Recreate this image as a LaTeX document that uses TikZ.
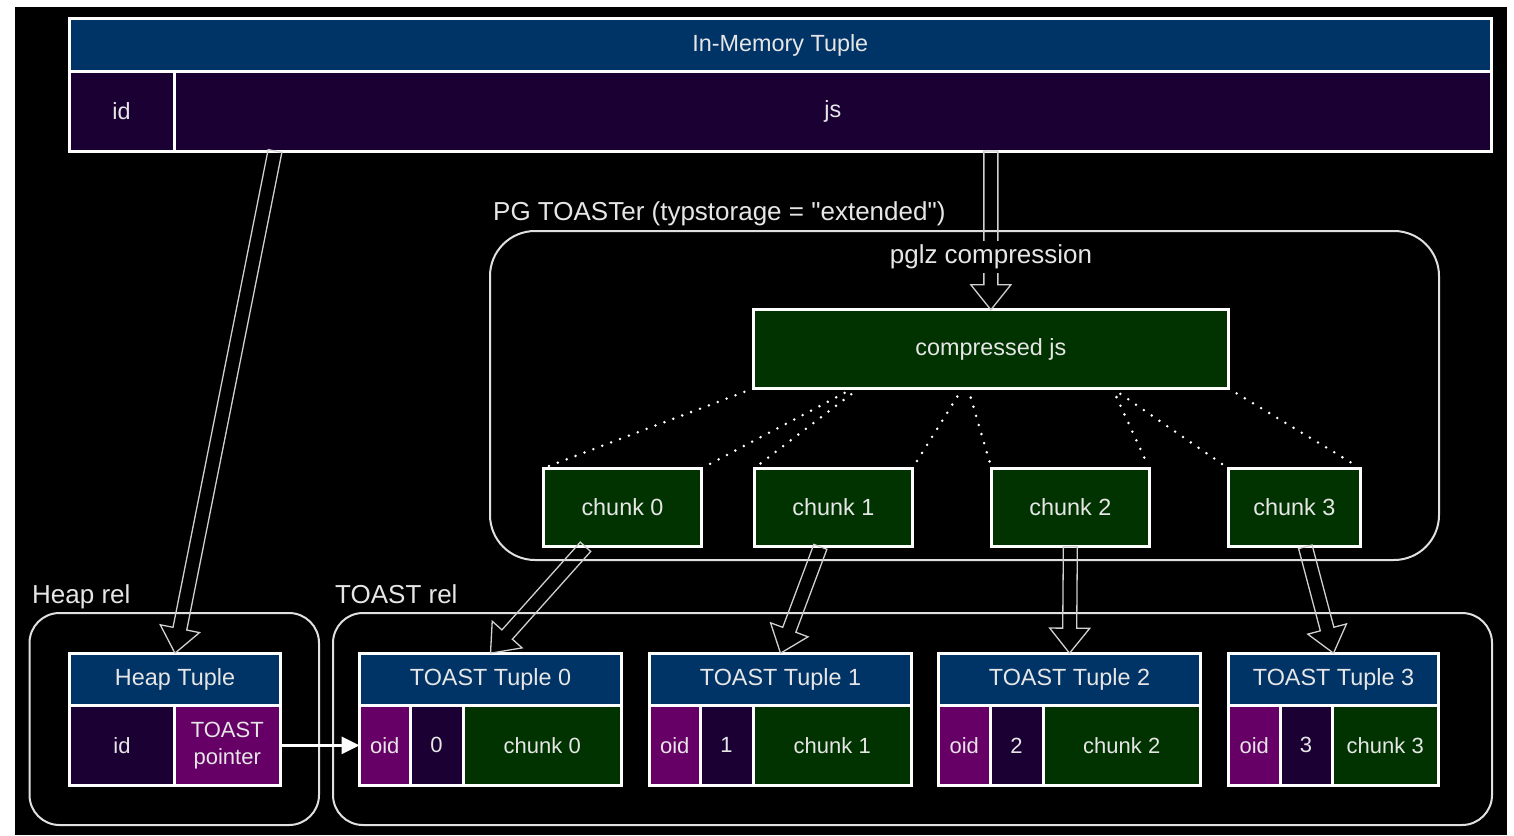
\documentclass[tikz,border=0pt]{standalone}
\usepackage{fontspec}
\setmainfont{Liberation Sans}[Ligatures=TeXOff]
\usetikzlibrary{calc,arrows.meta}
\definecolor{hdrblue}{HTML}{003366}
\definecolor{darkpur}{HTML}{1A0033}
\definecolor{midpur}{HTML}{660066}
\definecolor{darkgrn}{HTML}{003300}
\definecolor{txtc}{HTML}{E6E6E6}
\definecolor{linec}{HTML}{E0E0E0}
\definecolor{arrc}{HTML}{D0D0D0}
\newcommand\cellbox[7]{%
  \node[#6, minimum width={(#4)-(#2)}, minimum height={(#5)-(#3)}] (#1) at ({((#2)+(#4))/2},{((#3)+(#5))/2}) {#7};}
\newcommand\flexarrow[2]{%
  \coordinate (fa-n) at ($(#2)!25pt!(#1)$);
  \draw[flexarr] ($(#1)!7pt!90:(#2)$) -- ($(fa-n)!7pt!-90:(#1)$) -- ($(fa-n)!20pt!-90:(#1)$) -- (#2) -- ($(fa-n)!20pt!90:(#1)$) -- ($(fa-n)!7pt!90:(#1)$) -- ($(#1)!7pt!-90:(#2)$) -- cycle;}
\tikzset{
 cellb/.style={draw=white, line width=3pt, text=txtc, inner sep=0pt, outer sep=0pt, align=center, font=\fontsize{22}{27}\selectfont},
 hdrb/.style={cellb, fill=hdrblue, font=\fontsize{23.4}{26}\selectfont},
 dpb/.style={cellb, fill=darkpur},
 mpb/.style={cellb, fill=midpur},
 gb/.style={cellb, fill=darkgrn},
 chb/.style={cellb, fill=darkgrn, font=\fontsize{23.4}{26}\selectfont},
 cont/.style={draw=linec, line width=2pt, rounded corners=#1, inner sep=0pt, outer sep=0pt},
 lbl/.style={text=txtc, font=\fontsize{26}{30}\selectfont, inner sep=0pt, anchor=base west},
 flexarr/.style={draw=arrc, line width=1.3pt, line join=miter},
 dotl/.style={draw=white, line width=2.8pt, line cap=round, dash pattern=on 0pt off 9.5pt, shorten >=4pt},
 ptrarr/.style={draw=white, line width=3pt, -{Triangle[length=18pt,width=17pt]}},
}
\begin{document}
\begin{tikzpicture}[x=1pt,y=-1pt]
\useasboundingbox (0,0) rectangle (1514,835);
\fill[white] (0,0) rectangle (1514,835);
\fill[black] (15,7) rectangle (1507,835);

% containers
\cellbox{heaprel}{29.5}{613}{319}{825}{cont=30pt}{}
\cellbox{toastrel}{333}{613}{1492}{825}{cont=30pt}{}
\cellbox{toaster}{490}{231}{1439}{560}{cont=45pt}{}
\node[lbl] (lheap) at (32,603) {Heap rel};
\node[lbl] (ltoast) at (335,603) {TOAST rel};
\node[lbl] (ltoaster) at (493,220) {PG TOASTer (typstorage = "extended")};

% in-memory tuple
\cellbox{imh}{69}{18.5}{1491.5}{71.5}{hdrb}{In-Memory Tuple}
\cellbox{imid}{69}{71.5}{174}{151}{dpb,font=\fontsize{23.4}{26}\selectfont}{id}
\cellbox{imjs}{174}{71.5}{1491.5}{151}{dpb,font=\fontsize{23.4}{26}\selectfont}{js}

% compressed js and chunks
\cellbox{cjs}{753.2}{309.8}{1228.5}{388.5}{chb}{compressed js}
\cellbox{ch0}{543.2}{468.2}{701.8}{546.8}{chb}{chunk 0}
\cellbox{ch1}{754.2}{468.2}{912.5}{546.8}{chb}{chunk 1}
\cellbox{ch2}{991.5}{468.2}{1149.2}{546.8}{chb}{chunk 2}
\cellbox{ch3}{1228.2}{468.2}{1360.5}{546.8}{chb}{chunk 3}

% heap tuple
\cellbox{hph}{69.8}{653.2}{280.2}{705}{hdrb}{Heap Tuple}
\cellbox{hpid}{69.8}{705}{174.3}{785.8}{dpb}{id}
\cellbox{hpptr}{174.3}{705}{280.2}{785.8}{mpb}{TOAST\\pointer}

% toast tuples
\cellbox{t0h}{359.5}{653.2}{621.5}{705}{hdrb}{TOAST Tuple 0}
\cellbox{t0o}{359.5}{705}{410}{785.8}{mpb}{oid}
\cellbox{t0n}{410}{705}{463}{785.8}{dpb}{0}
\cellbox{t0c}{463}{705}{621.5}{785.8}{gb}{chunk 0}

\cellbox{t1h}{649.5}{653.2}{911.5}{705}{hdrb}{TOAST Tuple 1}
\cellbox{t1o}{649.5}{705}{700}{785.8}{mpb}{oid}
\cellbox{t1n}{700}{705}{753}{785.8}{dpb}{1}
\cellbox{t1c}{753}{705}{911.5}{785.8}{gb}{chunk 1}

\cellbox{t2h}{938.5}{653.2}{1200.5}{705}{hdrb}{TOAST Tuple 2}
\cellbox{t2o}{938.5}{705}{990}{785.8}{mpb}{oid}
\cellbox{t2n}{990}{705}{1043}{785.8}{dpb}{2}
\cellbox{t2c}{1043}{705}{1200.5}{785.8}{gb}{chunk 2}

\cellbox{t3h}{1228.5}{653.2}{1438.5}{705}{hdrb}{TOAST Tuple 3}
\cellbox{t3o}{1228.5}{705}{1280}{785.8}{mpb}{oid}
\cellbox{t3n}{1280}{705}{1332}{785.8}{dpb}{3}
\cellbox{t3c}{1332}{705}{1438.5}{785.8}{gb}{chunk 3}

% flex arrows
\coordinate (a1s) at ($(imjs.south west)+(101,0)$);
\flexarrow{a1s}{hph.north}
\coordinate (a2s) at (cjs.north |- imjs.south);
\flexarrow{a2s}{cjs.north}
\coordinate (a3s) at ($(ch0.south)+(-37,0)$);
\flexarrow{a3s}{t0h.north}
\coordinate (a4s) at ($(ch1.south)+(-13,0)$);
\flexarrow{a4s}{t1h.north}
\flexarrow{ch2.south}{t2h.north}
\coordinate (a6s) at ($(ch3.south)+(11,0)$);
\flexarrow{a6s}{t3h.north}

\node[lbl, anchor=center, fill=black, inner sep=4pt] (pglz) at (991,257) {pglz compression};

% dotted split lines
\coordinate (d1) at ($(cjs.south west)!0.21!(cjs.south east)$);
\coordinate (d2) at ($(cjs.south west)!0.222!(cjs.south east)$);
\coordinate (d3) at ($(cjs.south west)!0.44!(cjs.south east)$);
\coordinate (d4) at ($(cjs.south west)!0.452!(cjs.south east)$);
\coordinate (d5) at ($(cjs.south west)!0.756!(cjs.south east)$);
\draw[dotl] (cjs.south west) -- (ch0.north west);
\draw[dotl] (d1) -- (ch0.north east);
\draw[dotl] (d2) -- (ch1.north west);
\draw[dotl] (d3) -- (ch1.north east);
\draw[dotl] (d4) -- (ch2.north west);
\draw[dotl] (d5) -- (ch2.north east);
\draw[dotl] (d5) -- (ch3.north west);
\draw[dotl] (cjs.south east) -- (ch3.north east);

% toast pointer arrow
\draw[ptrarr] (hpptr.east) -- (t0o.west);
\end{tikzpicture}
\end{document}
